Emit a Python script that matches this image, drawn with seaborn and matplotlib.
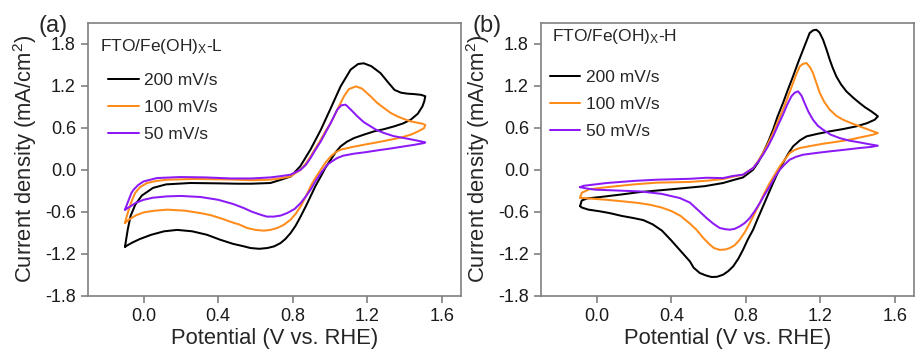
import numpy as np
import pandas as pd
import matplotlib
matplotlib.use("Agg")
import matplotlib.pyplot as plt
import seaborn as sns

# ---------------- data ----------------
rates = ["200 mV/s", "100 mV/s", "50 mV/s"]
colors = ["#000000", "#FF8C1A", "#8C1AF6"]
xticks = [0.0, 0.4, 0.8, 1.2, 1.6]
yticks = [-1.8, -1.2, -0.6, 0.0, 0.6, 1.2, 1.8]
titles = ["FTO/Fe(OH)$_{X}$-L", "FTO/Fe(OH)$_{X}$-H"]
panel_tags = ["(a)", "(b)"]

# Panel (a): FTO/Fe(OH)x-L, full loop (anodic then cathodic)
a200_v = [-0.10, -0.085, -0.07, -0.045, -0.01, 0.05, 0.12, 0.25, 0.40, 0.50, 0.58, 0.68, 0.74, 0.79,
          0.84, 0.895, 0.95, 1.00, 1.056, 1.11, 1.15, 1.18, 1.22, 1.27, 1.31, 1.345, 1.38, 1.415, 1.45,
          1.486, 1.51,
          1.505, 1.495, 1.47, 1.432, 1.39, 1.343, 1.29, 1.236, 1.18, 1.128, 1.09, 1.056, 1.03, 1.003,
          0.975, 0.95, 0.92, 0.895, 0.87, 0.842, 0.815, 0.788, 0.76, 0.734, 0.70, 0.663, 0.62, 0.573,
          0.53, 0.48, 0.41, 0.34, 0.26, 0.18, 0.11, 0.04, -0.02, -0.06, -0.10]
a200_j = [-1.10, -0.85, -0.66, -0.50, -0.37, -0.26, -0.21, -0.19, -0.195, -0.20, -0.20, -0.19, -0.14,
          -0.095, 0.05, 0.29, 0.57, 0.86, 1.19, 1.43, 1.51, 1.52, 1.48, 1.38, 1.25, 1.14, 1.10, 1.086,
          1.08, 1.07, 1.05,
          0.98, 0.905, 0.80, 0.714, 0.66, 0.619, 0.58, 0.548, 0.50, 0.452, 0.40, 0.333, 0.25, 0.143,
          0.03, -0.095, -0.24, -0.381, -0.52, -0.667, -0.80, -0.905, -0.99, -1.048, -1.095, -1.119,
          -1.13, -1.119, -1.09, -1.06, -1.00, -0.93, -0.88, -0.86, -0.88, -0.93, -0.99, -1.04, -1.10]

a100_v = [-0.10, -0.09, -0.08, -0.06, -0.045, -0.02, 0.018, 0.07, 0.126, 0.27, 0.466, 0.58, 0.68, 0.74,
          0.788, 0.842, 0.87, 0.895, 0.92, 0.95, 0.975, 1.003, 1.038, 1.074, 1.10, 1.137, 1.17, 1.217,
          1.25, 1.289, 1.325, 1.36, 1.40, 1.432, 1.47, 1.495, 1.51,
          1.504, 1.47, 1.432, 1.38, 1.325, 1.25, 1.182, 1.12, 1.056, 1.03, 1.003, 0.975, 0.95, 0.92,
          0.895, 0.87, 0.842, 0.815, 0.788, 0.75, 0.716, 0.68, 0.645, 0.60, 0.555, 0.51, 0.483, 0.42,
          0.36, 0.305, 0.22, 0.126, 0.06, 0.0, -0.04, -0.08, -0.10]
a100_j = [-0.76, -0.66, -0.57, -0.42, -0.33, -0.25, -0.19, -0.16, -0.143, -0.133, -0.14, -0.15, -0.143,
          -0.12, -0.095, 0.0, 0.09, 0.19, 0.30, 0.43, 0.55, 0.667, 0.857, 1.048, 1.15, 1.19, 1.16, 1.048,
          0.96, 0.88, 0.81, 0.762, 0.72, 0.69, 0.67, 0.657, 0.64,
          0.595, 0.545, 0.50, 0.46, 0.429, 0.39, 0.357, 0.325, 0.286, 0.25, 0.19, 0.10, 0.0, -0.12,
          -0.238, -0.38, -0.524, -0.63, -0.714, -0.79, -0.833, -0.86, -0.871, -0.86, -0.833, -0.78,
          -0.76, -0.70, -0.65, -0.62, -0.585, -0.571, -0.585, -0.61, -0.65, -0.714, -0.76]

a50_v = [-0.10, -0.09, -0.08, -0.065, -0.054, -0.03, 0.0, 0.072, 0.197, 0.33, 0.466, 0.58, 0.68, 0.74,
         0.788, 0.842, 0.87, 0.895, 0.92, 0.95, 0.975, 1.003, 1.038, 1.06, 1.083, 1.11, 1.146, 1.18,
         1.217, 1.25, 1.289, 1.34, 1.396, 1.44, 1.486, 1.51,
         1.504, 1.45, 1.396, 1.33, 1.253, 1.19, 1.128, 1.07, 1.038, 1.01, 0.985, 0.95, 0.92, 0.895,
         0.87, 0.842, 0.81, 0.77, 0.735, 0.698, 0.66, 0.627, 0.58, 0.537, 0.48, 0.40, 0.305, 0.20,
         0.126, 0.05, 0.0, -0.04, -0.071, -0.10]
a50_j = [-0.571, -0.50, -0.43, -0.33, -0.286, -0.22, -0.167, -0.119, -0.105, -0.11, -0.125, -0.125,
         -0.11, -0.09, -0.071, 0.0, 0.07, 0.167, 0.28, 0.405, 0.53, 0.667, 0.857, 0.92, 0.929, 0.86,
         0.762, 0.68, 0.619, 0.565, 0.524, 0.48, 0.452, 0.43, 0.405, 0.39,
         0.381, 0.355, 0.333, 0.305, 0.276, 0.25, 0.229, 0.20, 0.167, 0.12, 0.071, -0.048, -0.17,
         -0.286, -0.38, -0.476, -0.56, -0.619, -0.655, -0.67, -0.67, -0.643, -0.60, -0.548, -0.49,
         -0.43, -0.39, -0.375, -0.381, -0.40, -0.43, -0.47, -0.524, -0.571]

# Panel (b): FTO/Fe(OH)x-H
b200_v = [-0.089, -0.08, -0.05, 0.02, 0.13, 0.23, 0.40, 0.50, 0.58, 0.678, 0.73, 0.785, 0.839, 0.865,
          0.892, 0.92, 0.946, 0.97, 0.999, 1.025, 1.053, 1.08, 1.107, 1.142, 1.16, 1.178, 1.195, 1.214,
          1.232, 1.25, 1.265, 1.285, 1.31, 1.339, 1.375, 1.41, 1.44, 1.473, 1.495, 1.508,
          1.491, 1.45, 1.392, 1.32, 1.25, 1.18, 1.125, 1.09, 1.053, 1.025, 0.999, 0.97, 0.946, 0.92,
          0.892, 0.865, 0.839, 0.81, 0.785, 0.76, 0.732, 0.705, 0.678, 0.645, 0.616, 0.585, 0.553,
          0.52, 0.50, 0.45, 0.40, 0.35, 0.30, 0.25, 0.196, 0.134, 0.07, 0.018, -0.045, -0.08, -0.089]
b200_j = [-0.52, -0.44, -0.41, -0.39, -0.355, -0.32, -0.28, -0.255, -0.235, -0.19, -0.15, -0.11, 0.0,
          0.10, 0.238, 0.40, 0.571, 0.76, 0.952, 1.14, 1.333, 1.53, 1.714, 1.952, 1.99, 2.0, 1.96, 1.857,
          1.72, 1.571, 1.46, 1.333, 1.22, 1.119, 1.03, 0.952, 0.89, 0.833, 0.79, 0.762,
          0.714, 0.665, 0.619, 0.58, 0.548, 0.51, 0.476, 0.42, 0.333, 0.22, 0.095, -0.05, -0.19, -0.35,
          -0.524, -0.69, -0.857, -1.0, -1.143, -1.27, -1.381, -1.45, -1.50, -1.53, -1.533, -1.51,
          -1.476, -1.40, -1.31, -1.16, -1.01, -0.87, -0.78, -0.72, -0.69, -0.66, -0.62, -0.595, -0.57,
          -0.54, -0.52]

b100_v = [-0.089, -0.08, -0.04, 0.054, 0.20, 0.321, 0.50, 0.60, 0.678, 0.73, 0.785, 0.839, 0.865,
          0.892, 0.92, 0.946, 0.97, 0.999, 1.025, 1.053, 1.07, 1.089, 1.105, 1.125, 1.145, 1.16, 1.178,
          1.196, 1.22, 1.25, 1.285, 1.321, 1.365, 1.41, 1.45, 1.482, 1.508,
          1.482, 1.42, 1.357, 1.29, 1.214, 1.15, 1.089, 1.06, 1.035, 1.01, 0.982, 0.955, 0.928, 0.90,
          0.875, 0.848, 0.821, 0.795, 0.767, 0.74, 0.714, 0.69, 0.66, 0.63, 0.607, 0.57, 0.535, 0.50,
          0.45, 0.40, 0.348, 0.285, 0.223, 0.15, 0.054, -0.045, -0.089]
b100_j = [-0.40, -0.33, -0.28, -0.25, -0.21, -0.185, -0.175, -0.155, -0.133, -0.10, -0.071, 0.024, 0.12,
          0.238, 0.38, 0.524, 0.68, 0.857, 1.04, 1.238, 1.36, 1.476, 1.51, 1.524, 1.46, 1.381, 1.24,
          1.10, 0.97, 0.857, 0.77, 0.714, 0.665, 0.619, 0.58, 0.548, 0.524,
          0.50, 0.465, 0.429, 0.40, 0.371, 0.34, 0.31, 0.28, 0.238, 0.15, 0.048, -0.07, -0.19, -0.33,
          -0.476, -0.62, -0.762, -0.89, -1.0, -1.08, -1.119, -1.14, -1.145, -1.12, -1.071, -0.97,
          -0.857, -0.77, -0.66, -0.59, -0.54, -0.50, -0.475, -0.455, -0.43, -0.41, -0.40]

b50_v = [-0.089, -0.07, 0.054, 0.20, 0.321, 0.50, 0.589, 0.678, 0.73, 0.785, 0.839, 0.865, 0.892, 0.92,
         0.946, 0.97, 0.999, 1.02, 1.044, 1.062, 1.08, 1.098, 1.115, 1.135, 1.16, 1.185, 1.214, 1.255,
         1.303, 1.355, 1.41, 1.46, 1.508,
         1.47, 1.41, 1.33, 1.25, 1.18, 1.107, 1.07, 1.035, 1.01, 0.982, 0.955, 0.928, 0.90, 0.875,
         0.848, 0.821, 0.795, 0.767, 0.74, 0.714, 0.69, 0.66, 0.625, 0.589, 0.545, 0.50, 0.446, 0.348,
         0.232, 0.134, -0.009, -0.05, -0.089]
b50_j = [-0.25, -0.23, -0.19, -0.16, -0.143, -0.13, -0.115, -0.12, -0.09, -0.071, 0.024, 0.11, 0.214,
         0.34, 0.476, 0.62, 0.786, 0.92, 1.048, 1.10, 1.119, 1.06, 0.952, 0.83, 0.714, 0.63, 0.571,
         0.50, 0.452, 0.415, 0.39, 0.365, 0.343,
         0.325, 0.31, 0.285, 0.262, 0.24, 0.214, 0.185, 0.143, 0.08, 0.0, -0.11, -0.238, -0.36, -0.476,
         -0.59, -0.69, -0.76, -0.81, -0.845, -0.857, -0.85, -0.833, -0.77, -0.69, -0.58, -0.47, -0.405,
         -0.345, -0.31, -0.30, -0.285, -0.27, -0.25]

panel_data = [
    [(a200_v, a200_j), (a100_v, a100_j), (a50_v, a50_j)],
    [(b200_v, b200_j), (b100_v, b100_j), (b50_v, b50_j)],
]

# ---------------- style ----------------
sns.set_style("ticks")
plt.rcParams["font.family"] = ["Liberation Sans", "DejaVu Sans"]
plt.rcParams["mathtext.default"] = "regular"

W, H, DPI = 915, 354, 100
fig = plt.figure(figsize=(W / DPI, H / DPI), dpi=DPI)

ax_px = [(87.7, 22.7, 373.0, 273.0), (540.7, 22.7, 373.0, 273.0)]
title_pos = [(0.033, 0.912), (0.0295, 0.949)]
legend_anchor = [(0.055, 0.815), (0.025, 0.826)]
tag_pos = [(38, 26), (473, 26)]

spine_col = "#808080"
for i in range(2):
    x0, y0, w, h = ax_px[i]
    ax = fig.add_axes([x0 / W, 1 - (y0 + h) / H, w / W, h / H])
    frames = []
    for r, (v, j) in zip(rates, panel_data[i]):
        frames.append(pd.DataFrame({"V": v, "J": j, "rate": r}))
    df = pd.concat(frames, ignore_index=True)
    sns.lineplot(data=df, x="V", y="J", hue="rate", hue_order=rates,
                 palette=colors, sort=False, estimator=None, lw=1.45, ax=ax)
    for ln in ax.get_lines():
        ln.set_solid_joinstyle("round")
    ax.set_xlim(-0.3, 1.7)
    ax.set_ylim(-1.8, 2.1)
    ax.set_xticks(xticks)
    ax.set_yticks(yticks)
    ax.set_xticklabels([f"{t:.1f}" for t in xticks])
    ax.set_yticklabels([f"{t:.1f}" for t in yticks])
    for s in ax.spines.values():
        s.set_visible(True)
        s.set_color(spine_col)
        s.set_linewidth(1.2)
    ax.tick_params(axis="both", direction="out", length=5, width=1.2, color=spine_col,
                   labelsize=13, labelcolor="#1a1a1a", pad=3.5, top=False, right=False)
    ax.set_xlabel("Potential (V vs. RHE)", fontsize=15.8, labelpad=2.5)
    ax.set_ylabel("Current density (mA/cm$^{2}$)", fontsize=15.8, labelpad=4)
    ax.text(title_pos[i][0], title_pos[i][1], titles[i], transform=ax.transAxes,
            ha="left", va="center", fontsize=12.5)
    leg = ax.legend(loc="upper left", bbox_to_anchor=legend_anchor[i], frameon=False,
                    fontsize=12.5, handlelength=1.75, handletextpad=0.3, labelspacing=0.68,
                    borderpad=0, borderaxespad=0)
    for ln in leg.get_lines():
        ln.set_linewidth(1.45)
    fig.text(tag_pos[i][0] / W, 1 - tag_pos[i][1] / H, panel_tags[i], ha="left", va="center",
             fontsize=17)

fig.savefig("out.png", dpi=DPI)
